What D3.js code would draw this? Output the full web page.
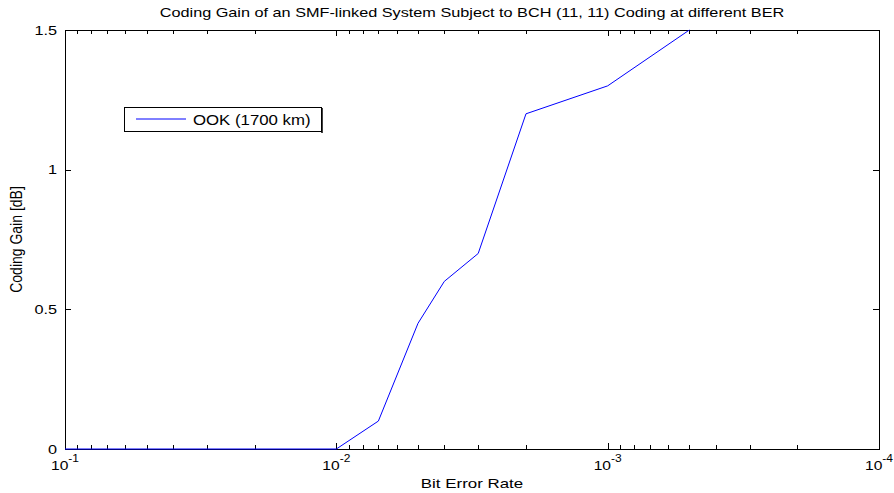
<!DOCTYPE html>
<html>
<head>
<meta charset="utf-8">
<script src="https://cdn.jsdelivr.net/npm/d3@7"></script>
<style>
  body { margin: 0; background: #fff; }
  text { font-family: "Liberation Sans", Arial, sans-serif; fill: #000; }
</style>
</head>
<body>
<svg></svg>
<script>
// размеры окна
const width = 894;
const height = 493;

// данные
const ber = [1e-1, 1e-2, 7e-3, 5e-3, 4e-3, 3e-3, 2e-3, 1e-3, 5e-4];
const gain = [0, 0, 0.1, 0.45, 0.6, 0.7, 1.2, 1.3, 1.5];
const xMajor = [1e-1, 1e-2, 1e-3, 1e-4];
const xExp = ["-1", "-2", "-3", "-4"];
const yTicks = [0, 0.5, 1, 1.5];
const yLabels = ["0", "0.5", "1", "1.5"];

// границы области графика
const pLeft = 65, pRight = 879, pTop = 30, pBottom = 449;
// текст на картинке растянут по горизонтали
const sx = 1.25;

let svg = d3.select("svg")
  .attr("width", width)
  .attr("height", height);

svg.append("rect")
  .attr("width", width)
  .attr("height", height)
  .style("fill", "#fff");

let x = d3.scaleLog().domain([1e-1, 1e-4]).range([pLeft, pRight]);
let y = d3.scaleLinear().domain([0, 1.5]).range([pBottom, pTop]);

// текст с растяжкой по x
function stretchText(parent, tx, ty, str, size, k, anchor) {
  return parent.append("text")
    .attr("transform", `translate(${tx}, ${ty}) scale(${k}, 1)`)
    .attr("text-anchor", anchor)
    .style("font-size", size + "px")
    .text(str);
}

// рамка осей
svg.append("rect")
  .attr("x", pLeft)
  .attr("y", pTop)
  .attr("width", pRight - pLeft)
  .attr("height", pBottom - pTop)
  .style("fill", "none")
  .style("stroke", "#000")
  .style("stroke-width", 1)
  .attr("shape-rendering", "crispEdges");

// мелкие деления (внутрь) снизу и сверху
let minor = x.ticks();
let axes = svg.append("g").attr("shape-rendering", "crispEdges");

axes.append("g")
  .attr("transform", `translate(0, ${pBottom})`)
  .call(d3.axisBottom(x).tickValues(minor).tickSizeInner(-4).tickSizeOuter(0).tickFormat(""))
  .call(g => g.select(".domain").remove());
axes.append("g")
  .attr("transform", `translate(0, ${pTop})`)
  .call(d3.axisTop(x).tickValues(minor).tickSizeInner(-4).tickSizeOuter(0).tickFormat(""))
  .call(g => g.select(".domain").remove());
axes.append("g")
  .attr("transform", `translate(0, ${pBottom})`)
  .call(d3.axisBottom(x).tickValues(xMajor).tickSizeInner(-6).tickSizeOuter(0).tickFormat(""))
  .call(g => g.select(".domain").remove());
axes.append("g")
  .attr("transform", `translate(0, ${pTop})`)
  .call(d3.axisTop(x).tickValues(xMajor).tickSizeInner(-6).tickSizeOuter(0).tickFormat(""))
  .call(g => g.select(".domain").remove());

// деления по Y слева и справа
axes.append("g")
  .attr("transform", `translate(${pLeft}, 0)`)
  .call(d3.axisLeft(y).tickValues(yTicks).tickSizeInner(-6).tickSizeOuter(0).tickFormat(""))
  .call(g => g.select(".domain").remove());
axes.append("g")
  .attr("transform", `translate(${pRight}, 0)`)
  .call(d3.axisRight(y).tickValues(yTicks).tickSizeInner(-6).tickSizeOuter(0).tickFormat(""))
  .call(g => g.select(".domain").remove());

axes.selectAll("line").style("stroke", "#000");

// подписи Y
yTicks.forEach((d, i) => {
  stretchText(svg, pLeft - 8, y(d) + 4.5, yLabels[i], 13, sx, "end");
});

// подписи X: 10 со степенью
xMajor.forEach((d, i) => {
  let t = svg.append("text")
    .attr("transform", `translate(${x(d)}, ${pBottom + 21}) scale(1.2, 1)`)
    .attr("text-anchor", "middle")
    .style("font-size", "13px");
  t.append("tspan").text("10");
  t.append("tspan")
    .attr("dy", -8)
    .style("font-size", "10px")
    .text(xExp[i]);
});

// кривая
const line = d3.line()
  .x((d, i) => x(ber[i]))
  .y(d => y(d));

svg.append("path")
  .attr("d", line(gain))
  .style("fill", "none")
  .style("stroke", "#0000ff")
  .style("stroke-width", 1);

// заголовок и подписи осей
stretchText(svg, 472, 17, "Coding Gain of an SMF-linked System Subject to BCH (11, 11) Coding at different BER", 13, sx, "middle");
stretchText(svg, (pLeft + pRight) / 2, 488, "Bit Error Rate", 13, 1.3, "middle");

svg.append("text")
  .attr("transform", `translate(22, ${(pTop + pBottom) / 2}) rotate(-90) scale(1, 1.2)`)
  .attr("text-anchor", "middle")
  .style("font-size", "14px")
  .text("Coding Gain [dB]");

// легенда
let legend = svg.append("g");
legend.append("rect")
  .attr("x", 124)
  .attr("y", 107)
  .attr("width", 197)
  .attr("height", 24)
  .style("fill", "#fff")
  .style("stroke", "#000")
  .attr("shape-rendering", "crispEdges");
legend.append("line")
  .attr("x1", 322).attr("y1", 108)
  .attr("x2", 322).attr("y2", 133)
  .style("stroke", "#000")
  .style("stroke-width", 1.5);
legend.append("line")
  .attr("x1", 136).attr("y1", 119)
  .attr("x2", 186).attr("y2", 119)
  .style("stroke", "#0000ff");
stretchText(legend, 193, 124.5, "OOK (1700 km)", 14, 1.2, "start");
</script>
</body>
</html>
